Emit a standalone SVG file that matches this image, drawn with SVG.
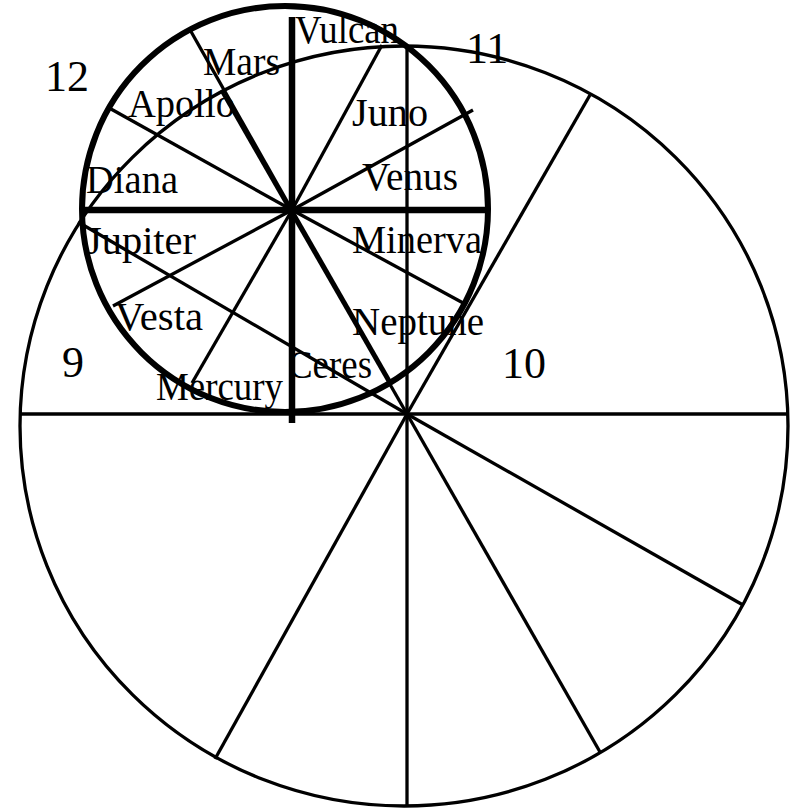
<svg xmlns="http://www.w3.org/2000/svg" width="794" height="809" viewBox="0 0 794 809">
<style>
.thin{stroke:#000;stroke-width:3.3;fill:none;stroke-linecap:butt}
.thick{stroke:#000;stroke-width:6.5;fill:none}
.god{font-family:"Liberation Serif","Times New Roman",serif;font-size:39px;fill:#000}
.num{font-family:"Liberation Serif","Times New Roman",serif;font-size:44px;fill:#000}
</style>
<rect width="794" height="809" fill="#fff"/>
<g id="houses-circle">
<ellipse cx="404" cy="426" rx="384" ry="380" class="thin"/>
</g>
<g id="gods-circle">
<circle cx="285" cy="209" r="203" stroke="#000" stroke-width="6" fill="none"/>
</g>
<g id="connectors">
<line x1="407" y1="414" x2="788" y2="414" class="thin"/>
<line x1="407" y1="414" x2="20" y2="414" class="thin"/>
<line x1="407" y1="414" x2="407" y2="46" class="thin"/>
<line x1="407" y1="414" x2="407" y2="806" class="thin"/>
<line x1="407" y1="414" x2="590" y2="95" class="thin"/>
<line x1="407" y1="414" x2="222" y2="92" class="thin"/>
<line x1="407" y1="414" x2="78" y2="222" class="thin"/>
<line x1="407" y1="414" x2="215" y2="759" class="thin"/>
<line x1="407" y1="414" x2="600" y2="752" class="thin"/>
<line x1="407" y1="414" x2="743" y2="605" class="thin"/>
<line x1="292" y1="210" x2="473" y2="110" class="thin"/>
<line x1="292" y1="210" x2="382" y2="45" class="thin"/>
<line x1="292" y1="210" x2="189" y2="28" class="thin"/>
<line x1="292" y1="210" x2="111" y2="109" class="thin"/>
<line x1="292" y1="210" x2="113" y2="306" class="thin"/>
<line x1="292" y1="210" x2="192" y2="383" class="thin"/>
<line x1="292" y1="210" x2="390" y2="381" class="thin"/>
<line x1="292" y1="210" x2="465" y2="304" class="thin"/>
<line x1="83" y1="210" x2="487" y2="210" class="thick"/>
<line x1="292" y1="17" x2="292" y2="423" class="thick"/>
</g>
<g id="label-vulcan"><text class="god" x="295" y="43" textLength="104" lengthAdjust="spacingAndGlyphs">Vulcan</text></g>
<g id="label-mars"><text class="god" x="203" y="75" textLength="77" lengthAdjust="spacingAndGlyphs">Mars</text></g>
<g id="label-apollo"><text class="god" x="128" y="117" textLength="107" lengthAdjust="spacingAndGlyphs">Apollo</text></g>
<g id="label-diana"><text class="god" x="86" y="193" textLength="92" lengthAdjust="spacingAndGlyphs">Diana</text></g>
<g id="label-jupiter"><text class="god" x="86" y="254" textLength="110" lengthAdjust="spacingAndGlyphs">Jupiter</text></g>
<g id="label-vesta"><text class="god" x="115" y="330" textLength="88" lengthAdjust="spacingAndGlyphs">Vesta</text></g>
<g id="label-mercury"><text class="god" x="156" y="400" textLength="127" lengthAdjust="spacingAndGlyphs">Mercury</text></g>
<g id="label-ceres"><text class="god" x="288" y="378" textLength="84" lengthAdjust="spacingAndGlyphs">Ceres</text></g>
<g id="label-neptune"><text class="god" x="352" y="335" textLength="132" lengthAdjust="spacingAndGlyphs">Neptune</text></g>
<g id="label-minerva"><text class="god" x="352" y="253" textLength="130" lengthAdjust="spacingAndGlyphs">Minerva</text></g>
<g id="label-venus"><text class="god" x="362" y="190" textLength="96" lengthAdjust="spacingAndGlyphs">Venus</text></g>
<g id="label-juno"><text class="god" x="352" y="126" textLength="76" lengthAdjust="spacingAndGlyphs">Juno</text></g>
<g id="house-12"><text class="num" x="45" y="91">12</text></g>
<g id="house-11"><text class="num" x="466" y="63">11</text></g>
<g id="house-9"><text class="num" x="62" y="377">9</text></g>
<g id="house-10"><text class="num" x="502" y="378">10</text></g>
</svg>
